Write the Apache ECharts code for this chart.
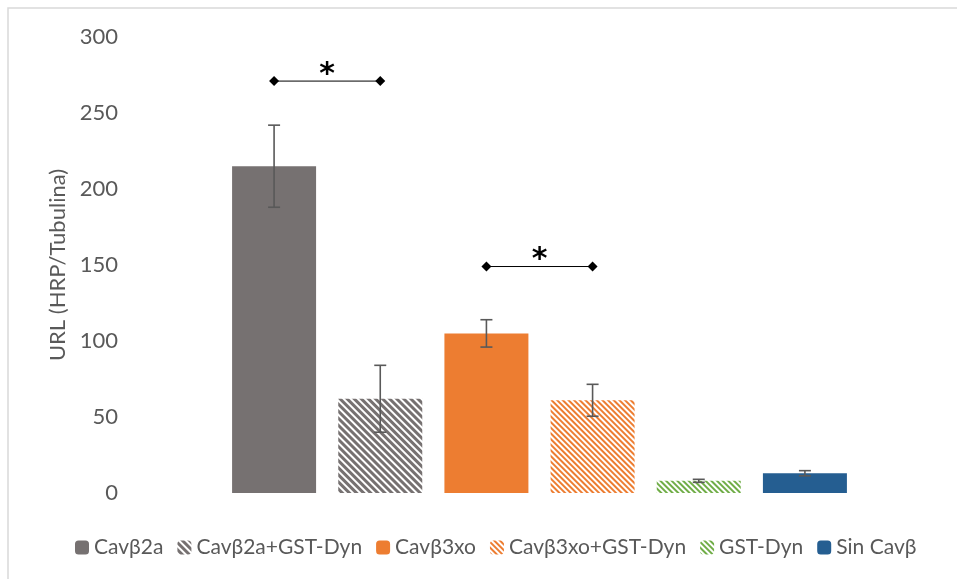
<!DOCTYPE html>
<html>
<head>
<meta charset="utf-8">
<script src="https://cdn.jsdelivr.net/npm/echarts@6/dist/echarts.min.js"></script>
<style>
  html, body { margin: 0; padding: 0; background: #fff; }
  #chart { width: 957px; height: 579px; }
</style>
</head>
<body>
<div id="chart"></div>
<script>
// Groups shown on the x axis (one bar each)
const groups = ['Cavβ2a', 'Cavβ2a+GST-Dyn', 'Cavβ3xo', 'Cavβ3xo+GST-Dyn', 'GST-Dyn', 'Sin Cavβ'];
// Mean URL (HRP/Tubulina) per group
const means = [215, 62, 105, 61, 8, 13];
// Error (± half range) per group
const errors = [27, 22, 9, 10.5, 1, 1.7];
// Significance brackets: pairs of group indices and the level they are drawn at
const sigPairs = [[0, 1], [2, 3]];
const sigLevels = [271, 149];
const sigText = ['*', '*'];
// Y-axis ticks
const yMin = 0, yMax = 300, yStep = 50;

const barColors = ['#767171', '#767171', '#ED7D31', '#ED7D31', '#70AD47', '#255E91'];
const hatched = [false, true, false, true, true, false];
const FONT = 'Lato, "Open Sans", sans-serif';

const chart = echarts.init(document.getElementById('chart'), null, { renderer: 'canvas' });

const barSeries = groups.map((name, i) => {
  const data = groups.map((_, j) => (j === i ? means[i] : '-'));
  const style = hatched[i]
    ? {
        color: '#ffffff',
        decal: {
          symbol: 'rect',
          color: barColors[i],
          dashArrayX: [1, 0],
          dashArrayY: i === 1 ? [3, 2] : [2, 2],
          rotation: Math.PI / 4,
          symbolSize: 1
        }
      }
    : { color: barColors[i] };
  return {
    name: name,
    type: 'bar',
    stack: 'bars',
    barWidth: 84,
    data: data,
    itemStyle: style,
    emphasis: { disabled: true }
  };
});

const errorSeries = {
  type: 'custom',
  name: 'err',
  silent: true,
  z: 5,
  data: means.map((m, i) => [i, m - errors[i], m + errors[i]]),
  renderItem: function (params, api) {
    const lo = api.coord([api.value(0), api.value(1)]);
    const hi = api.coord([api.value(0), api.value(2)]);
    const cap = 6;
    const st = { stroke: '#595959', lineWidth: 1.6 };
    return {
      type: 'group',
      children: [
        { type: 'line', shape: { x1: hi[0], y1: hi[1], x2: lo[0], y2: lo[1] }, style: st },
        { type: 'line', shape: { x1: hi[0] - cap, y1: hi[1], x2: hi[0] + cap, y2: hi[1] }, style: st },
        { type: 'line', shape: { x1: lo[0] - cap, y1: lo[1], x2: lo[0] + cap, y2: lo[1] }, style: st }
      ]
    };
  }
};

const bracketSeries = {
  type: 'custom',
  name: 'sig',
  silent: true,
  z: 6,
  data: sigPairs.map((p, k) => [p[0], p[1], sigLevels[k], k]),
  renderItem: function (params, api) {
    const a = api.coord([api.value(0), api.value(2)]);
    const b = api.coord([api.value(1), api.value(2)]);
    const k = api.value(3);
    const d = 5;
    const diamond = (x, y) => ({
      type: 'polygon',
      shape: { points: [[x, y - d], [x + d, y], [x, y + d], [x - d, y]] },
      style: { fill: '#000' }
    });
    return {
      type: 'group',
      children: [
        { type: 'line', shape: { x1: a[0], y1: a[1], x2: b[0], y2: b[1] }, style: { stroke: '#000', lineWidth: 1 } },
        diamond(a[0], a[1]),
        diamond(b[0], b[1]),
        {
          type: 'text',
          style: {
            text: sigText[k],
            x: (a[0] + b[0]) / 2,
            y: a[1] - 6,
            align: 'center',
            verticalAlign: 'middle',
            font: 'bold 30px "DejaVu Sans", sans-serif',
            fill: '#000'
          }
        }
      ]
    };
  }
};

chart.setOption({
  animation: false,
  backgroundColor: '#fff',
  graphic: [{
    type: 'rect',
    shape: { x: 8, y: 8, width: 1000, height: 1000 },
    style: { fill: 'none', stroke: '#d9d9d9', lineWidth: 1.5 },
    silent: true
  }],
  grid: { left: 221, right: 99, top: 37, bottom: 86 },
  legend: {
    data: groups,
    left: 70,
    top: 532,
    itemWidth: 14,
    itemHeight: 14,
    itemGap: 14,
    textStyle: { color: '#595959', fontSize: 21, fontFamily: FONT },
    selectedMode: false
  },
  xAxis: {
    type: 'category',
    data: groups,
    axisLine: { show: false },
    axisTick: { show: false },
    axisLabel: { show: false },
    splitLine: { show: false }
  },
  yAxis: {
    type: 'value',
    min: yMin,
    max: yMax,
    interval: yStep,
    name: 'URL (HRP/Tubulina)',
    nameLocation: 'middle',
    nameGap: 150,
    nameTextStyle: { color: '#595959', fontSize: 22, fontFamily: FONT },
    axisLine: { show: false },
    axisTick: { show: false },
    splitLine: { show: false },
    axisLabel: { color: '#595959', fontSize: 22, fontFamily: FONT, margin: 103 }
  },
  series: [...barSeries, errorSeries, bracketSeries]
});
</script>
</body>
</html>
